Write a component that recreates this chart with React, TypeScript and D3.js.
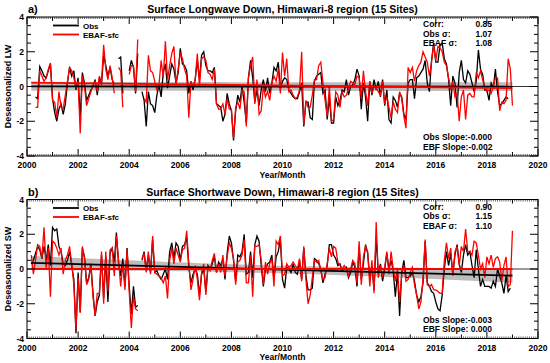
import * as d3 from 'd3';
import React, { useEffect, useRef } from 'react';

// monthly anomalies, Mar 2000 .. Jan 2019 (one row per year)
const startYear = 2000 + 2 / 12;

const obsLW: (number | null)[] = [
	null, null, -0.6, -0.7, 1.15, 0.9, 0.6, 0.5, 0.9, 1.3,
	-0.7, -1.5, -2.0, -1.3, -1.0, -1.6, -1.0, 0.2, 1.1, 0.6, 0.9, -0.2,
	0.5, -1.8, 0.8, 0.2, -0.8, -0.5, -0.2, 0.0, 0.4, -0.5, 0.5, 0.1,
	1.8, 1.2, 0.6, 1.1, 0.4, 0.1, null, 1.6, 1.7, -0.4, null, null,
	0.9, 1.5, 1.1, -0.4, 1.9, null, -0.3, -0.8, -2.3, -0.3, -1.0, -1.1,
	-1.5, -0.5, 0.1, -0.6, 0.8, 1.3, -0.1, 0.6, 1.3, 1.0, 0.2, 0.8,
	2.2, 1.3, 1.2, 0.9, -0.4, 0.3, -0.2, 0.4, 1.5, 0.4, 1.8, 2.0,
	1.2, 0.9, 0.9, 0.8, 1.1, -1.0, -1.1, -1.2, -2.0, -1.6, -0.4, -1.0,
	-1.4, -3.1, -1.4, -0.5, -0.9, 0.0, -0.9, -2.1, 0.5, 1.5, 0.5, -0.9,
	-0.2, -1.1, -0.2, 0.4, -0.3, 0.5, -0.4, 0.2, 1.1, 0.9, 1.4, -0.1,
	0.3, 0.5, 0.4, -0.2, -0.4, -0.6, -0.7, -0.7, -0.3, 0.2, -2.3, -0.9,
	-0.9, -1.8, -1.9, 0.3, 0.6, 0.7, 0.8, -0.4, -0.2, -1.9, -0.6, -2.1,
	-2.1, -0.6, -1.1, -0.8, -0.2, -0.3, 0.4, -0.5, 0.0, 0.1, 0.4, 1.0,
	0.6, -1.3, 0.2, -0.6, -2.0, 0.3, -0.5, 0.4, -0.2, 0.3, -0.6, 0.4,
	-1.1, -0.2, -1.9, -2.1, -0.6, -0.8, -1.2, -0.4, -0.6, -1.6, -1.9, 0.2,
	0.4, 0.4, -0.7, 0.5, 0.6, 0.8, 1.0, 1.5, 0.2, -0.3, 1.5, 2.5,
	1.4, 1.4, 2.4, 2.5, 1.6, 1.3, 0.4, -1.1, 0.6, 0.2, -1.2, 0.8,
	1.5, 0.4, 0.2, 0.9, 0.7, 0.2, -0.3, 0.3, 2.1, 1.0, 0.7, -0.2,
	-0.2, -0.8, 0.2, -0.1, 1.0, -0.3, -1.1, -1.0, -0.8, -0.6, -0.7, null,
	null,
];

const ebafLW: (number | null)[] = [
	null, null, -1.2, -1.2, 0.9, 0.6, 0.3, 0.5, 1.0, 1.35,
	-0.8, -0.9, -1.8, -0.3, -1.2, -1.3, -0.5, 0.3, 1.1, 0.9, 0.5, -0.1,
	0.3, -2.7, 0.6, 0.0, -1.1, -0.7, -0.3, 0.1, 0.3, -0.3, 0.6, 0.2,
	2.4, 1.0, 0.4, 1.2, 0.5, -0.4, null, 1.1, 0.9, -1.2, null, null,
	0.7, 1.2, 1.2, -0.3, 2.7, null, null, -0.7, -0.9, 1.8, 0.9, 0.8,
	0.3, -0.2, 0.1, 1.5, 0.5, 2.6, 0.4, 1.2, 1.9, 2.3, 0.1, 1.0,
	1.9, 1.6, 1.0, 0.6, -1.8, 0.3, 0.0, 0.4, 1.9, 0.0, 1.6, 1.7,
	1.5, 0.8, 0.7, 0.4, 1.0, -1.0, -1.3, -1.3, -1.0, -1.6, -0.7, -1.3,
	-1.3, -3.0, -1.2, -0.9, -1.3, -0.2, -0.3, -2.3, 0.5, 1.2, 1.7, -1.0,
	0.4, -1.6, -1.4, 0.0, -0.6, -0.3, -0.8, 0.2, 0.6, 0.3, 1.0, -0.4,
	1.95, 0.6, 1.6, -0.3, -0.2, -0.5, -0.7, -0.6, -0.2, 2.0, -2.2, -0.8,
	-1.2, -1.2, -0.5, 0.4, 0.4, 1.2, 1.4, 0.2, -0.8, -1.7, 0.0, -2.0,
	-1.9, -0.3, -0.5, -1.2, -0.3, -0.6, -0.5, -0.1, 0.3, 0.2, 0.1, 0.6,
	0.5, -0.7, 0.9, -0.3, -1.1, 0.3, -0.4, 0.0, -0.1, -0.3, -0.5, 0.3,
	-1.0, -0.6, -1.2, -1.8, -0.9, -1.3, -1.5, -0.3, -0.7, -1.7, -2.4, 1.1,
	0.8, 1.1, 0.3, 0.9, 1.2, 1.4, 2.0, 1.7, 1.4, 0.6, 1.4, 2.4,
	1.5, 2.3, 2.2, 2.0, 1.4, 1.2, 0.5, -0.2, 0.3, -0.6, -0.4, -2.0,
	-0.6, -0.2, -1.9, -0.5, -0.4, -0.6, -0.6, 0.8, 0.5, 0.9, 0.4, -0.1,
	-0.3, -0.2, -0.4, 0.0, 0.5, 0.5, -1.4, -0.9, -1.0, -0.8, 1.6, 1.0,
	-1.1,
];

const obsSW: (number | null)[] = [
	0.3, 0.5, 0.9, 1.3, 1.1, 0.6, 1.3, 0.5, 1.4, 0.2,
	2.4, 2.2, 2.3, 1.3, 1.0, 0.3, 0.2, 0.5, 1.0, 0.2, -0.6, -3.7,
	-0.2, -2.5, 1.2, 0.7, -0.8, -0.5, 0.3, -1.4, -2.7, -1.9, -1.5, 0.8,
	-1.7, 0.7, -1.9, 0.9, 1.2, 0.4, 2.1, 0.3, -0.4, 0.6, -1.0, 1.2,
	-1.0, -2.6, -1.0, -2.2, -2.1, null, 0.5, 1.0, -0.1, 0.8, -0.2, 1.7,
	-0.2, -0.1, -0.4, -0.6, -0.3, 0.0, -0.6, 1.0, 1.5, 0.6, 1.5, 1.3,
	0.5, 1.3, 1.4, 1.8, 0.1, -0.8, -0.3, 0.0, -0.3, -1.5, -0.3, 0.0,
	-1.3, 0.2, 0.0, 0.3, 0.7, -0.2, 0.4, 0.2, 0.6, -0.6, 0.9, 1.9,
	1.5, 0.5, -0.7, 0.8, 0.7, 1.0, 2.0, -0.3, -0.2, 1.0, -0.5, 1.4,
	1.9, 1.6, 0.2, -1.0, 0.0, 0.3, 0.4, 0.8, -0.6, 0.7, 1.0, 1.7,
	-0.6, -1.1, 0.1, 0.0, -0.2, 0.3, -0.2, -0.3, 0.5, -0.6, 1.2, -0.4,
	-1.2, -1.2, -1.1, 0.6, 0.5, 0.3, 0.0, -0.8, -0.3, 0.2, 1.4, 1.4,
	0.8, 0.6, 0.2, 0.3, -0.1, 0.0, 0.1, -0.5, -0.2, 0.4, 0.1, -1.0,
	1.3, -0.6, 0.3, 1.4, 0.9, -0.5, 0.2, -1.2, 1.9, -0.3, 0.3, -0.7,
	0.0, 0.9, 0.0, 0.5, -0.1, -1.6, -0.2, -2.7, -0.2, 0.5, -0.5, -0.5,
	-0.4, -0.2, -0.7, -1.5, -1.9, -1.6, -0.8, 1.6, -0.8, -1.0, -1.3, -1.4,
	-1.9, -2.3, -2.4, -1.5, 0.0, 1.0, 0.2, 0.9, -0.3, 0.8, 1.4, 0.3,
	-0.2, 0.8, 1.4, 0.8, 1.0, 0.2, -0.5, 1.1, 0.0, -1.0, -0.6, -1.0,
	-1.0, -1.0, -1.1, -0.7, -1.0, 0.0, -0.4, -0.8, -1.4, -0.4, -1.3, -1.1,
	null,
];

const ebafSW: (number | null)[] = [
	0.8, -0.3, 0.5, 1.4, 1.3, 0.6, 2.4, 0.0, 1.2, -1.6,
	1.6, 1.5, 1.2, 0.8, 1.2, -0.3, 0.5, 0.8, 1.3, 0.3, -0.9, -3.5,
	-0.5, -2.5, 1.3, 0.6, -0.9, -0.6, 0.2, -1.6, -2.7, -1.4, -1.4, 1.0,
	-2.0, 1.0, -1.3, 1.1, 1.2, -0.4, 1.9, 0.5, -1.0, 0.3, -1.2, 1.1,
	-1.3, -3.4, -1.6, -2.3, -2.4, null, 0.6, 0.9, -0.2, 1.0, -0.3, 1.9,
	-0.2, -0.3, -0.4, -0.5, -0.8, -0.4, -1.7, 0.5, 1.2, 0.3, 1.2, 0.8,
	0.4, 1.1, 1.2, 2.2, 0.3, -1.2, -0.6, 0.2, -0.6, -1.8, -0.2, 0.3,
	-1.5, 0.1, -0.1, 0.5, 0.9, -0.2, 0.3, -0.2, 0.8, -0.4, 0.7, 1.5,
	1.2, 0.6, -0.9, 0.4, 0.5, 0.8, 1.7, -0.8, -0.8, 0.8, -1.6, 1.3,
	1.3, 1.4, 0.5, -0.9, 0.4, -0.3, 0.3, 0.6, -1.0, 1.6, 1.4, 1.9,
	-0.4, -0.3, 0.3, 0.1, 0.2, 0.4, 0.2, 0.0, 0.6, -0.7, 1.3, -0.6,
	-2.0, -1.5, -0.5, 0.5, 0.4, 0.5, -0.1, -0.6, -0.5, 0.3, 1.2, 0.7,
	1.3, 1.2, 0.4, 0.2, 0.0, 0.2, 0.0, -0.4, 0.0, 0.5, 0.3, -0.8,
	1.6, -0.9, 0.7, 1.3, 1.0, -1.0, 0.5, -1.4, 2.7, -0.5, 0.2, -0.5,
	0.1, 1.0, -0.3, 1.0, 0.0, -0.7, 0.0, -1.9, -0.3, 0.2, -0.7, -0.6,
	-0.2, 0.1, -0.9, -1.5, -2.3, -1.9, -0.6, 1.7, -0.9, -1.0, -0.9, -1.2,
	-1.2, -1.3, -1.4, -1.4, 0.5, 1.5, 0.6, 1.2, -0.4, 1.0, 1.3, 0.2,
	1.3, 1.0, 2.3, 1.0, 1.0, 0.8, 1.6, 1.5, 0.8, 0.0, 0.3, -0.5,
	0.7, 0.3, 0.8, 0.1, 0.6, 0.7, 0.4, -0.7, 0.2, 0.7, -1.0, -0.9,
	2.2,
];

// regression lines: [value at first month, value at last month]
const obsTrendLW = [0.01, -0.01];
const ebafTrendLW = [0.22, -0.1];
const obsTrendSW = [0.35, -0.38];
const ebafTrendSW = [0.0, 0.0];
// confidence band half width: [at centre, extra at ends]
const bandLW = [0.25, 0.05];
const bandSW = [0.22, 0.34];

const statLabels = ['Corr:', 'Obs σ:', 'EBAF σ:'];
const statsLW = ['0.85', '1.07', '1.08'];
const statsSW = ['0.90', '1.15', '1.10'];
const slopesLW = ['Obs Slope:-0.000', 'EBF Slope:-0.002'];
const slopesSW = ['Obs Slope:-0.003', 'EBF Slope: 0.000'];
const yearTicks = d3.range(2000, 2021, 2);
const valueTicks = [-4, -2, 0, 2, 4];

const FONT = '"Liberation Sans", Arial, Helvetica, sans-serif';

interface Panel {
	top: number;
	tag: string;
	title: string;
	ylabel: string;
	obs: (number | null)[];
	ebaf: (number | null)[];
	obsTrend: number[];
	ebafTrend: number[];
	band: number[];
	stats: string[];
	slopes: string[];
	id: string;
}

const drawPanel = (svg: any, p: Panel) => {
	const x = d3.scaleLinear().domain([2000, 2020]).range([27, 538]);
	const y = d3.scaleLinear().domain([-4, 4]).range([p.top + 139, p.top]);
	const t = (i: number) => startYear + i / 12;
	const n = p.obs.length;
	const t0 = t(0);
	const t1 = t(n - 1);
	const tm = (t0 + t1) / 2;
	const trendAt = (tr: number[], tt: number) => tr[0] + ((tr[1] - tr[0]) * (tt - t0)) / (t1 - t0);
	const hw = (tt: number) => {
		const u = (tt - tm) / (t1 - tm);
		return Math.sqrt(p.band[0] * p.band[0] + p.band[1] * p.band[1] * u * u);
	};

	svg.append('clipPath')
		.attr('id', p.id)
		.append('rect')
		.attr('x', x(2000))
		.attr('y', y(4))
		.attr('width', x(2020) - x(2000))
		.attr('height', y(-4) - y(4));

	const g = svg.append('g').attr('clip-path', `url(#${p.id})`);

	// confidence band
	const bandPts = d3.range(0, 61).map(k => t0 + ((t1 - t0) * k) / 60);
	g.append('path')
		.attr('d', d3
			.area<number>()
			.x(d => x(d))
			.y0(d => y(trendAt(p.obsTrend, d) - hw(d)))
			.y1(d => y(trendAt(p.obsTrend, d) + hw(d)))(bandPts))
		.attr('fill', '#bdbdbd');

	const line = d3
		.line<number | null>()
		.defined(d => d !== null)
		.x((d, i) => x(t(i)))
		.y(d => y(d as number));

	g.append('path').attr('d', line(p.obs)).attr('fill', 'none').attr('stroke', '#000').attr('stroke-width', 1.3);
	g.append('path').attr('d', line(p.ebaf)).attr('fill', 'none').attr('stroke', '#ff0000').attr('stroke-width', 1.3);

	// zero reference
	g.append('line')
		.attr('x1', x(2000)).attr('x2', x(2020))
		.attr('y1', y(0)).attr('y2', y(0))
		.attr('stroke', '#000').attr('stroke-width', 0.8);

	// regression lines
	[[p.obsTrend, '#000'], [p.ebafTrend, '#ff0000']].forEach(([tr, c]: any) => {
		g.append('line')
			.attr('x1', x(t0)).attr('x2', x(t1))
			.attr('y1', y(tr[0])).attr('y2', y(tr[1]))
			.attr('stroke', c).attr('stroke-width', 1.8);
	});

	// frame
	svg.append('rect')
		.attr('x', x(2000)).attr('y', y(4))
		.attr('width', x(2020) - x(2000)).attr('height', y(-4) - y(4))
		.attr('fill', 'none').attr('stroke', '#000').attr('stroke-width', 1);

	const ticks = svg.append('g').attr('stroke', '#000').attr('stroke-width', 1);
	// y ticks, both sides, pointing inward
	d3.range(-4, 4.01, 0.5).forEach(v => {
		const len = v % 2 === 0 ? 8 : 4;
		ticks.append('line').attr('x1', x(2000)).attr('x2', x(2000) + len).attr('y1', y(v)).attr('y2', y(v));
		ticks.append('line').attr('x1', x(2020)).attr('x2', x(2020) - len).attr('y1', y(v)).attr('y2', y(v));
	});
	// x ticks, monthly minor
	d3.range(0, 241).forEach(m => {
		const yr = 2000 + m / 12;
		const len = m % 24 === 0 ? 7 : m % 12 === 0 ? 4 : 2;
		ticks.append('line').attr('x1', x(yr)).attr('x2', x(yr)).attr('y1', y(-4)).attr('y2', y(-4) - len).attr('stroke-width', m % 12 === 0 ? 1 : 0.6);
		ticks.append('line').attr('x1', x(yr)).attr('x2', x(yr)).attr('y1', y(4)).attr('y2', y(4) + len).attr('stroke-width', m % 12 === 0 ? 1 : 0.6);
	});

	const text = svg.append('g').attr('font-family', FONT).attr('font-weight', 'bold').attr('fill', '#000');

	text.selectAll('.yt')
		.data(valueTicks)
		.join('text')
		.attr('x', 24)
		.attr('y', (d: number) => y(d) + 3)
		.attr('text-anchor', 'end')
		.attr('font-size', 8.5)
		.text((d: number) => d);

	text.selectAll('.xt')
		.data(yearTicks)
		.join('text')
		.attr('x', (d: number) => x(d))
		.attr('y', y(-4) + 12)
		.attr('text-anchor', 'middle')
		.attr('font-size', 8.5)
		.text((d: number) => d);

	text.append('text')
		.attr('x', x(2010)).attr('y', y(-4) + 21.5)
		.attr('text-anchor', 'middle').attr('font-size', 8.5)
		.text('Year/Month');

	text.append('text')
		.attr('transform', `translate(11,${y(0)}) rotate(-90)`)
		.attr('text-anchor', 'middle').attr('font-size', 9)
		.text(p.ylabel);

	text.append('text').attr('x', 28).attr('y', p.top - 4).attr('font-size', 11).text(p.tag);
	text.append('text')
		.attr('x', x(2010)).attr('y', p.top - 4)
		.attr('text-anchor', 'middle').attr('font-size', 10.5)
		.text(p.title);

	// legend
	[['Obs', '#000'], ['EBAF-sfc', '#ff0000']].forEach(([label, c], i) => {
		const ly = p.top + 8.5 + i * 9;
		svg.append('line').attr('x1', 53).attr('x2', 79).attr('y1', ly).attr('y2', ly).attr('stroke', c).attr('stroke-width', 1.8);
		text.append('text').attr('x', 83).attr('y', ly + 3).attr('font-size', 8).text(label);
	});

	// stats box
	statLabels.forEach((s, i) => {
		const sy = p.top + 10 + i * 9.6;
		text.append('text').attr('x', 423).attr('y', sy).attr('font-size', 8.5).text(s);
		text.append('text').attr('x', 492).attr('y', sy).attr('text-anchor', 'end').attr('font-size', 8.5).text(p.stats[i]);
	});
	p.slopes.forEach((s, i) => {
		text.append('text').attr('x', 423).attr('y', p.top + 123 + i * 9.6).attr('font-size', 8.5).text(s);
	});
};

const App = () => {
	const ref = useRef<SVGSVGElement>(null);

	useEffect(() => {
		const svg = d3.select(ref.current);
		svg.selectAll('*').remove();
		drawPanel(svg, {
			top: 17, tag: 'a)', id: 'clipA',
			title: 'Surface Longwave Down, Himawari-8 region (15 Sites)',
			ylabel: 'Deseasonalized LW',
			obs: obsLW, ebaf: ebafLW, obsTrend: obsTrendLW, ebafTrend: ebafTrendLW, band: bandLW,
			stats: statsLW, slopes: slopesLW,
		});
		drawPanel(svg, {
			top: 199.5, tag: 'b)', id: 'clipB',
			title: 'Surface Shortwave Down, Himawari-8 region (15 Sites)',
			ylabel: 'Deseasonalized SW',
			obs: obsSW, ebaf: ebafSW, obsTrend: obsTrendSW, ebafTrend: ebafTrendSW, band: bandSW,
			stats: statsSW, slopes: slopesSW,
		});
	}, []);

	return (
		<svg
			ref={ref}
			width={550}
			height={363}
			style={{ position: 'absolute', left: 0, top: 0, background: '#fff' }}
		/>
	);
};

export default App;
